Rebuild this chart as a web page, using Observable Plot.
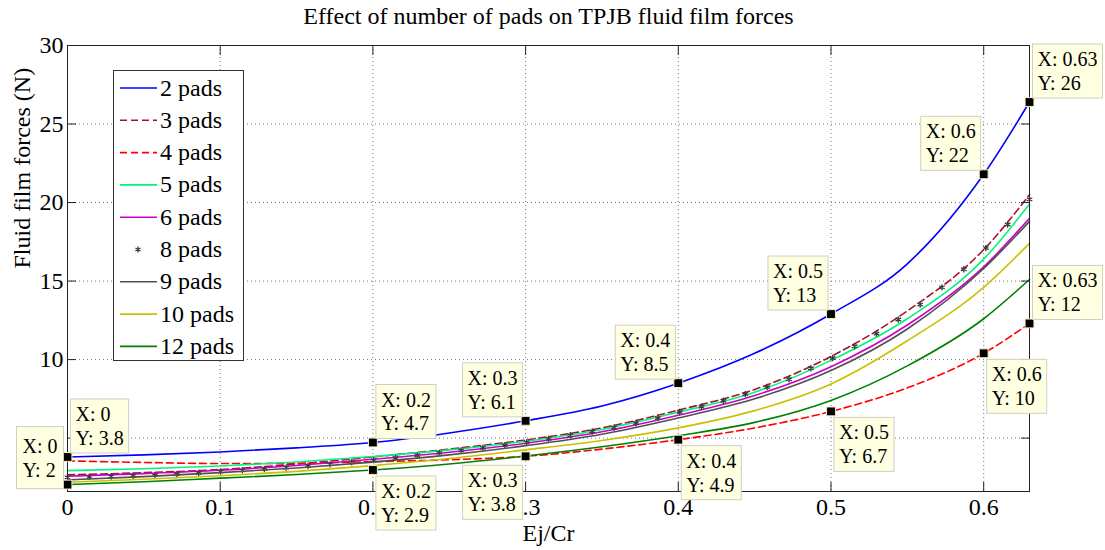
<!DOCTYPE html>
<html><head><meta charset="utf-8">
<script src="https://cdn.jsdelivr.net/npm/d3@7"></script>
<script src="https://cdn.jsdelivr.net/npm/@observablehq/plot@0.6"></script>
<style>
body{margin:0;background:#fff}
#chart svg, #chart svg text, #chart svg tspan { font-family: "Liberation Serif", "DejaVu Serif", serif !important; }
</style>
</head><body><div id="chart"></div>
<script>
// ---------- data ----------
const eccentricity = [0, 0.05, 0.1, 0.15, 0.2, 0.25, 0.3, 0.35, 0.4, 0.45, 0.5, 0.55, 0.6, 0.63];
const pads2  = [3.8, 3.93, 4.12, 4.38, 4.72, 5.33, 6.1, 7.05, 8.5, 10.4, 12.9, 16.1, 21.8, 26.4];
const pads3  = [2.66, 2.8, 3.0, 3.35, 3.8, 4.3, 4.88, 5.65, 6.78, 8.1, 10.2, 13.1, 17.0, 20.5];
const pads4  = [3.55, 3.45, 3.38, 3.4, 3.5, 3.62, 3.84, 4.3, 4.9, 5.65, 6.7, 8.2, 10.4, 12.3];
const pads5  = [2.93, 3.05, 3.22, 3.48, 3.83, 4.25, 4.8, 5.55, 6.65, 7.92, 9.95, 12.6, 16.4, 19.9];
const pads6  = [2.57, 2.74, 2.95, 3.26, 3.65, 4.1, 4.67, 5.4, 6.45, 7.71, 9.55, 12.2, 15.9, 19.0];
const pads9  = [2.34, 2.55, 2.8, 3.1, 3.47, 3.93, 4.52, 5.25, 6.28, 7.5, 9.3, 11.95, 15.8, 18.8];
const pads10 = [2.19, 2.38, 2.6, 2.88, 3.25, 3.7, 4.25, 4.85, 5.65, 6.75, 8.45, 11.2, 14.6, 17.4];
const pads12 = [2.04, 2.22, 2.45, 2.68, 2.97, 3.35, 3.86, 4.45, 5.15, 6.0, 7.4, 9.6, 12.6, 15.1];

// 8 pads is drawn with markers only
const eccentricity8 = [0, 0.0143, 0.0286, 0.043, 0.0573, 0.0716, 0.0859, 0.1002, 0.1145, 0.1289,
  0.1432, 0.1575, 0.1718, 0.1861, 0.2005, 0.2148, 0.2291, 0.2434, 0.2577, 0.272,
  0.2864, 0.3007, 0.315, 0.3293, 0.3436, 0.358, 0.3723, 0.3866, 0.4009, 0.4152,
  0.4295, 0.4439, 0.4582, 0.4725, 0.4868, 0.5011, 0.5155, 0.5298, 0.5441, 0.5584,
  0.5727, 0.587, 0.6014, 0.6157, 0.63];
const pads8 = [2.5, 2.53, 2.56, 2.6, 2.64, 2.7, 2.78, 2.87, 2.95, 3.03,
  3.12, 3.22, 3.33, 3.46, 3.6, 3.74, 3.9, 4.06, 4.22, 4.38,
  4.55, 4.73, 4.95, 5.18, 5.42, 5.68, 5.96, 6.28, 6.66, 7.0,
  7.38, 7.8, 8.25, 8.75, 9.45, 10.1, 10.85, 11.65, 12.55, 13.5,
  14.6, 15.75, 17.1, 18.6, 20.2];

const seriesNames = ["2 pads", "3 pads", "4 pads", "5 pads", "6 pads", "8 pads", "9 pads", "10 pads", "12 pads"];

// data tips
const tipSeries = ["2 pads", "12 pads", "2 pads", "12 pads", "2 pads", "4 pads", "2 pads", "4 pads", "2 pads", "4 pads", "2 pads", "4 pads", "2 pads", "4 pads"];
const tipX      = [0, 0, 0.2, 0.2, 0.3, 0.3, 0.4, 0.4, 0.5, 0.5, 0.6, 0.6, 0.63, 0.63];
const tipXLabel = ["0", "0", "0.2", "0.2", "0.3", "0.3", "0.4", "0.4", "0.5", "0.5", "0.6", "0.6", "0.63", "0.63"];
const tipYLabel = ["3.8", "2", "4.7", "2.9", "6.1", "3.8", "8.5", "4.9", "13", "6.7", "22", "10", "26", "12"];

const xTicks = [0, 0.1, 0.2, 0.3, 0.4, 0.5, 0.6];
const yTicks = [5, 10, 15, 20, 25, 30];

const titleText = "Effect of number of pads on TPJB fluid film forces";
const xLabelText = "Ej/Cr";
const yLabelText = "Fluid film forces (N)";

// ---------- styles ----------
const FONT = "Liberation Serif, DejaVu Serif, serif";
const styles = {
  "2 pads":  {stroke: "#0000ff"},
  "3 pads":  {stroke: "#a3142f", dash: "7,4"},
  "4 pads":  {stroke: "#ff0000", dash: "7,4"},
  "5 pads":  {stroke: "#00f57a"},
  "6 pads":  {stroke: "#cc00cc"},
  "8 pads":  {stroke: "#3a3a3a", marker: true},
  "9 pads":  {stroke: "#505050"},
  "10 pads": {stroke: "#c9c100"},
  "12 pads": {stroke: "#008000"}
};
const placements = ["ur", "lm", "ur", "lr", "ul", "ll", "ul", "lr", "ul", "lr", "ul", "lr", "ur", "ur"];

// ---------- tables ----------
const lineSeries = {"2 pads": pads2, "3 pads": pads3, "4 pads": pads4, "5 pads": pads5, "6 pads": pads6,
  "9 pads": pads9, "10 pads": pads10, "12 pads": pads12};
const rows = [];
for (const [name, vals] of Object.entries(lineSeries))
  eccentricity.forEach((e, i) => rows.push({series: name, e, f: vals[i]}));
const rows8 = eccentricity8.map((e, i) => ({series: "8 pads", e, f: pads8[i]}));
const tipRows = tipX.map((e, i) => {
  const vals = lineSeries[tipSeries[i]];
  return {e, f: vals[eccentricity.indexOf(e)], xl: tipXLabel[i], yl: tipYLabel[i]};
});

const lineOrder = ["2 pads", "3 pads", "4 pads", "5 pads", "6 pads", "9 pads", "10 pads", "12 pads"];
const lineMarks = lineOrder.map(name => Plot.line(rows.filter(r => r.series === name), {
  x: "e", y: "f", stroke: styles[name].stroke, strokeWidth: 1.6,
  strokeDasharray: styles[name].dash || null, curve: "monotone-x"
}));

const svg = Plot.plot({
  width: 1105, height: 550,
  marginLeft: 67, marginRight: 76, marginTop: 45, marginBottom: 59,
  style: "font-family: 'Liberation Serif', 'DejaVu Serif', serif; font-size: 24px; background: white; color: black; overflow: visible;",
  x: {domain: [0, 0.63]},
  y: {domain: [1.6, 30]},
  marks: [
    Plot.gridX(xTicks.slice(1), {stroke: "#777", strokeOpacity: 1, strokeDasharray: "1,3"}),
    Plot.gridY(yTicks.slice(0, -1), {stroke: "#777", strokeOpacity: 1, strokeDasharray: "1,3"}),
    ...lineMarks.slice(0, 5),
    Plot.dot(rows8, {x: "e", y: "f", symbol: "asterisk", r: 3, stroke: styles["8 pads"].stroke, strokeWidth: 1.3}),
    ...lineMarks.slice(5),
    Plot.frame({stroke: "#222"}),
    Plot.axisX(xTicks, {anchor: "bottom", tickSize: -9, tickPadding: 15, tickFormat: d => String(d), label: null, fontSize: 24, stroke: "#222"}),
    Plot.axisX(xTicks, {anchor: "top", tickSize: -9, tickFormat: () => "", label: null, stroke: "#222"}),
    Plot.axisY(yTicks, {anchor: "left", tickSize: -9, tickPadding: 13, tickFormat: d => String(d), label: null, fontSize: 24, stroke: "#222"}),
    Plot.axisY(yTicks, {anchor: "right", tickSize: -9, tickFormat: () => "", label: null, stroke: "#222"}),
    Plot.dot(tipRows, {x: "e", y: "f", symbol: "square", r: 5, fill: "#000", stroke: "#f2eec0", strokeWidth: 1}),
    Plot.text(tipRows, {x: "e", y: "f", text: d => `X: ${d.xl}\nY: ${d.yl}`, textAnchor: "start", lineAnchor: "top",
      fontSize: 20, lineHeight: 1.2, fill: "#000"}),
    Plot.text([titleText], {frameAnchor: "top", lineAnchor: "middle", dy: -29, fontSize: 24, fill: "#000"}),
    Plot.text([xLabelText], {frameAnchor: "bottom", lineAnchor: "middle", dy: 42, fontSize: 24, fill: "#000"}),
    Plot.text([yLabelText], {frameAnchor: "left", lineAnchor: "middle", dx: -45, rotate: -90, fontSize: 24, fill: "#000"})
  ]
});
document.getElementById("chart").append(svg);

// ---------- data tip boxes ----------
const xs = svg.scale("x"), ys = svg.scale("y");
const tipTexts = Array.from(svg.querySelectorAll("text")).filter(t => t.textContent.startsWith("X:"));
tipTexts.forEach((t, i) => {
  const d = tipRows[i];
  const px = xs.apply(d.e), py = ys.apply(d.f);
  t.removeAttribute("x"); t.removeAttribute("y");
  t.setAttribute("transform", "translate(0,0)");
  const bb = t.getBBox();
  const pad = 5;
  let W = bb.width + 2 * pad, H = bb.height + 2 * pad - 2;
  let left, top;
  switch (placements[i]) {
    case "ur": left = px + 3; top = py - 4 - H; break;
    case "ul": left = px - 3 - W; top = py - 4 - H; break;
    case "lr": left = px + 3; top = py + 6; break;
    case "ll": left = px - 3 - W; top = py + 9; break;
    case "lm": H += 8; W += 2; left = px - 4 - W; top = py + 4 - H; break;
  }
  t.setAttribute("transform", `translate(${left + (W - bb.width) / 2 - bb.x},${top + (H - bb.height) / 2 - bb.y})`);
  const rect = document.createElementNS("http://www.w3.org/2000/svg", "rect");
  rect.setAttribute("x", left); rect.setAttribute("y", top);
  rect.setAttribute("width", W); rect.setAttribute("height", H);
  rect.setAttribute("fill", "#ffffe1"); rect.setAttribute("stroke", "#cfcfc4");
  t.parentNode.insertBefore(rect, t);
});

// ---------- legend ----------
const lg = d3.select(svg).append("g").attr("font-family", FONT).attr("font-size", 24).attr("text-anchor", "start");
lg.append("rect").attr("x", 113.5).attr("y", 70.5).attr("width", 130).attr("height", 290)
  .attr("fill", "white").attr("stroke", "#333");
seriesNames.forEach((name, i) => {
  const y = 88 + i * 32.3;
  const s = styles[name];
  if (s.marker) {
    const sym = d3.symbol(d3.symbolAsterisk, 24)();
    lg.append("path").attr("d", sym).attr("transform", `translate(138,${y})`)
      .attr("stroke", s.stroke).attr("stroke-width", 1.3).attr("fill", "none");
  } else {
    lg.append("line").attr("x1", 120).attr("x2", 157).attr("y1", y).attr("y2", y)
      .attr("stroke", s.stroke).attr("stroke-width", 1.6).attr("stroke-dasharray", s.dash || null);
  }
  lg.append("text").attr("x", 160).attr("y", y + 2).attr("dominant-baseline", "middle")
    .attr("text-anchor", "start").attr("fill", "#000").text(name);
});
</script>
</body></html>
